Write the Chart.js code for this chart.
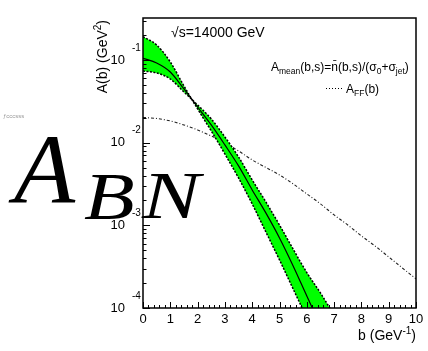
<!DOCTYPE html>
<html>
<head>
<meta charset="utf-8">
<script src="https://cdn.jsdelivr.net/npm/chart.js@4.4.1/dist/chart.umd.min.js"></script>
<style>
  html, body { margin: 0; padding: 0; background: #fff; }
  #wrap { position: relative; width: 428px; height: 351px; }
</style>
</head>
<body>
<div id="wrap"><canvas id="myChart" width="428" height="351"></canvas></div>
<script>
// impact parameter grid for the band and the mean curve
const bGrid = [0, 0.5, 1, 1.5, 2, 2.5, 3, 3.5, 4, 4.5, 5, 5.5, 6, 6.5, 7];
const bandHigh = [0.191, 0.152, 0.0946, 0.0485, 0.02556, 0.01385, 0.0073, 0.00374, 0.001815, 0.000832, 0.000382, 0.00017, 0.0000759, 0.000034, 0.000015];
const bandLow = [0.0736, 0.0697, 0.0589, 0.041, 0.02857, 0.01935, 0.01172, 0.00672, 0.00354, 0.00192, 0.00101, 0.000515, 0.000268, 0.000152, 0.000082];
const meanValues = [0.1048, 0.092, 0.0716, 0.0446, 0.027, 0.01637, 0.00938, 0.00523, 0.00268, 0.001413, 0.000704, 0.000323, 0.00014, 0.000061, 0.000026];

// A_FF(b)
const ffB = [0, 0.5, 1, 1.5, 2, 2.5, 3, 3.5, 4, 4.5, 5, 5.5, 6, 6.5, 7, 7.5, 8, 8.5, 9, 9.5, 10];
const ffValues = [0.02017, 0.0196, 0.0183, 0.01637, 0.01424, 0.01205, 0.00992, 0.00794, 0.00618, 0.00501, 0.00407, 0.00317, 0.0024, 0.00182, 0.001336, 0.00101, 0.000744, 0.000563, 0.000415, 0.000305, 0.000225];

const xTickLabels = ["0", "1", "2", "3", "4", "5", "6", "7", "8", "9", "10"];
const yTickValues = [1e-4, 1e-3, 1e-2, 1e-1];
const yTickExponents = ["-4", "-3", "-2", "-1"];

const toPoints = (xs, ys) => xs.map((v, i) => ({ x: v, y: ys[i] }));
const FONT = '"Liberation Sans", Arial, sans-serif';
const SERIF = '"Liberation Serif", "Times New Roman", serif';

// draw a row of text pieces: [text, size, dy]
function drawRuns(ctx, parts, x, y, align) {
  let w = 0;
  parts.forEach(p => { ctx.font = p[1] + "px " + FONT; w += ctx.measureText(p[0]).width; });
  let cx = align === "right" ? x - w : x;
  parts.forEach(p => {
    ctx.font = p[1] + "px " + FONT;
    ctx.fillText(p[0], cx, y + (p[2] || 0));
    cx += ctx.measureText(p[0]).width;
  });
}

const rootAxes = {
  id: "rootAxes",
  afterDatasetsDraw(chart) {
    const { ctx, chartArea: a, scales: { x, y } } = chart;
    ctx.save();
    ctx.strokeStyle = "#000";
    ctx.fillStyle = "#000";

    // ticks
    ctx.lineWidth = 1;
    ctx.beginPath();
    for (let i = 0; i <= 50; i++) {
      const px = Math.round(x.getPixelForValue(i * 0.2)) + 0.5;
      const len = i % 5 === 0 ? 6 : 3;
      ctx.moveTo(px, a.bottom);
      ctx.lineTo(px, a.bottom - len);
    }
    for (let d = -4; d <= -1; d++) {
      for (let k = 1; k <= 9; k++) {
        const v = k * Math.pow(10, d);
        if (v > y.max) continue;
        const py = Math.round(y.getPixelForValue(v)) + 0.5;
        ctx.moveTo(a.left, py);
        ctx.lineTo(a.left + (k === 1 ? 7 : 3.5), py);
      }
    }
    ctx.stroke();

    // frame
    ctx.lineWidth = 1.5;
    ctx.strokeRect(a.left, a.top, a.right - a.left, a.bottom - a.top);

    // x tick labels
    ctx.textAlign = "center";
    ctx.textBaseline = "middle";
    ctx.font = "13px " + FONT;
    xTickLabels.forEach((t, i) => {
      ctx.fillText(t, x.getPixelForValue(i), a.bottom + 11);
    });

    // y tick labels 10^n
    yTickValues.forEach((v, i) => {
      const py = y.getPixelForValue(v);
      ctx.textAlign = "right";
      ctx.font = "13px " + FONT;
      ctx.fillText("10", 125, py);
      ctx.textAlign = "left";
      ctx.font = "10px " + FONT;
      ctx.fillText(yTickExponents[i], 132, py - 12);
    });

    // axis titles
    ctx.textAlign = "left";
    ctx.textBaseline = "alphabetic";
    drawRuns(ctx, [["b (GeV", 14], ["-1", 10, -6], [")", 14]], a.right, 340, "right");
    ctx.save();
    ctx.translate(107, a.top + 2);
    ctx.rotate(-Math.PI / 2);
    drawRuns(ctx, [["A(b) (GeV", 14], ["2", 10, -6], [")", 14]], 0, 0, "right");
    ctx.restore();

    // header and legend
    drawRuns(ctx, [["\u221As=14000 GeV", 14]], 171, 37);
    drawRuns(ctx, [["A", 12], ["mean", 8.5, 3], ["(b,s)=n\u0304(b,s)/(\u03c3", 12], ["0", 8.5, 3], ["+\u03c3", 12], ["jet", 8.5, 3], [")", 12]], 271, 71);
    ctx.lineWidth = 1;
    ctx.setLineDash([1, 2]);
    ctx.beginPath();
    ctx.moveTo(326, 88.5);
    ctx.lineTo(342, 88.5);
    ctx.stroke();
    ctx.setLineDash([]);
    drawRuns(ctx, [["A", 12], ["FF", 8.5, 3], ["(b)", 12]], 346, 93);
    ctx.restore();
  },
  afterDraw(chart) {
    const { ctx } = chart;
    ctx.save();
    ctx.fillStyle = "#000";
    ctx.textAlign = "left";
    ctx.textBaseline = "alphabetic";
    ctx.font = "italic 100px " + SERIF;
    ctx.fillText("A", 14, 203);
    ctx.font = "italic 68px " + SERIF;
    ctx.save();
    ctx.translate(84, 219);
    ctx.scale(1.22, 1);
    ctx.fillText("B", 0, 0);
    ctx.restore();
    ctx.save();
    ctx.translate(142, 218);
    ctx.scale(1.28, 1);
    ctx.fillText("N", 0, 0);
    ctx.restore();
    ctx.fillStyle = "#999";
    ctx.font = "6px " + FONT;
    ctx.fillText("\u0192cccsss", 3, 118);
    ctx.restore();
  }
};

const ctx = document.getElementById("myChart").getContext("2d");
new Chart(ctx, {
  type: "line",
  data: {
    datasets: [
      {
        data: toPoints(bGrid, bandHigh),
        borderColor: "#000",
        borderWidth: 1.5,
        borderDash: [2, 1.5],
        backgroundColor: "#00ff00",
        fill: 1,
        order: 3,
        pointRadius: 0,
        cubicInterpolationMode: "monotone"
      },
      {
        data: toPoints(bGrid, bandLow),
        borderColor: "#000",
        borderWidth: 1.5,
        borderDash: [2, 1.5],
        fill: false,
        order: 2,
        pointRadius: 0,
        cubicInterpolationMode: "monotone"
      },
      {
        data: toPoints(bGrid, meanValues),
        borderColor: "#000",
        borderWidth: 1.2,
        fill: false,
        order: 1,
        pointRadius: 0,
        cubicInterpolationMode: "monotone"
      },
      {
        data: toPoints(ffB, ffValues),
        borderColor: "#222",
        borderWidth: 1.1,
        borderDash: [3, 2, 1, 2],
        fill: false,
        order: 4,
        pointRadius: 0,
        cubicInterpolationMode: "monotone"
      }
    ]
  },
  options: {
    responsive: false,
    animation: false,
    devicePixelRatio: 1,
    layout: { padding: { left: 143, right: 12, top: 18, bottom: 43 } },
    plugins: { legend: { display: false }, tooltip: { enabled: false } },
    scales: {
      x: { type: "linear", min: 0, max: 10, display: false },
      y: { type: "logarithmic", min: 1e-4, max: 0.322, display: false }
    }
  },
  plugins: [rootAxes]
});
</script>
</body>
</html>
